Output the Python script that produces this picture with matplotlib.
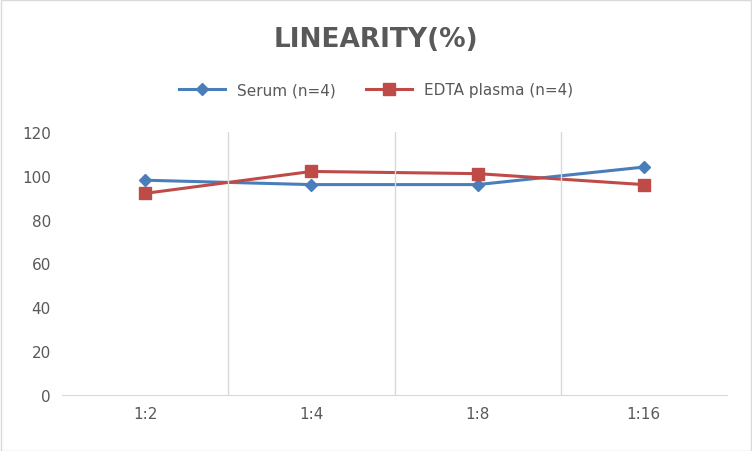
import matplotlib.pyplot as plt
import numpy as np

categories = ["1:2", "1:4", "1:8", "1:16"]
serum = [98, 96, 96, 104]
edta = [92, 102, 101, 96]
yticks = [0, 20, 40, 60, 80, 100, 120]

fig = plt.figure(figsize=(7.52, 4.52), dpi=100)
ax = fig.add_axes([62 / 752, 1 - 396 / 452, 665 / 752, 263 / 452])

x = np.arange(len(categories))
ax.plot(x, serum, color="#4a7ebb", marker="D", markersize=6, linewidth=2.2, label="Serum (n=4)")
ax.plot(x, edta, color="#be4b48", marker="s", markersize=8, linewidth=2.2, label="EDTA plasma (n=4)")

ax.set_xlim(-0.5, len(categories) - 0.5)
ax.set_ylim(0, 120)
ax.set_yticks(yticks)
ax.set_xticks(x)
ax.set_xticklabels(categories)
for b in np.arange(0.5, len(categories) - 0.5, 1):
    ax.axvline(b, color="#d9d9d9", linewidth=1)

for side in ["top", "right", "left"]:
    ax.spines[side].set_visible(False)
ax.spines["bottom"].set_color("#d9d9d9")
ax.tick_params(length=0, labelsize=11, colors="#595959", pad=8)

fig.text(0.5, 1 - 40 / 452, "LINEARITY(%)", ha="center", va="center",
         fontsize=19, fontweight="bold", color="#595959")
ax.legend(loc="center", bbox_to_anchor=(0.5, 1 - 91 / 452), bbox_transform=fig.transFigure,
          ncol=2, frameon=False, fontsize=11, labelcolor="#595959", handlelength=3)

fig.patches.append(plt.Rectangle((0.001, 0.001), 0.998, 0.997, transform=fig.transFigure,
                                 fill=False, edgecolor="#d9d9d9", linewidth=1))
fig.savefig("out.png", dpi=100)
